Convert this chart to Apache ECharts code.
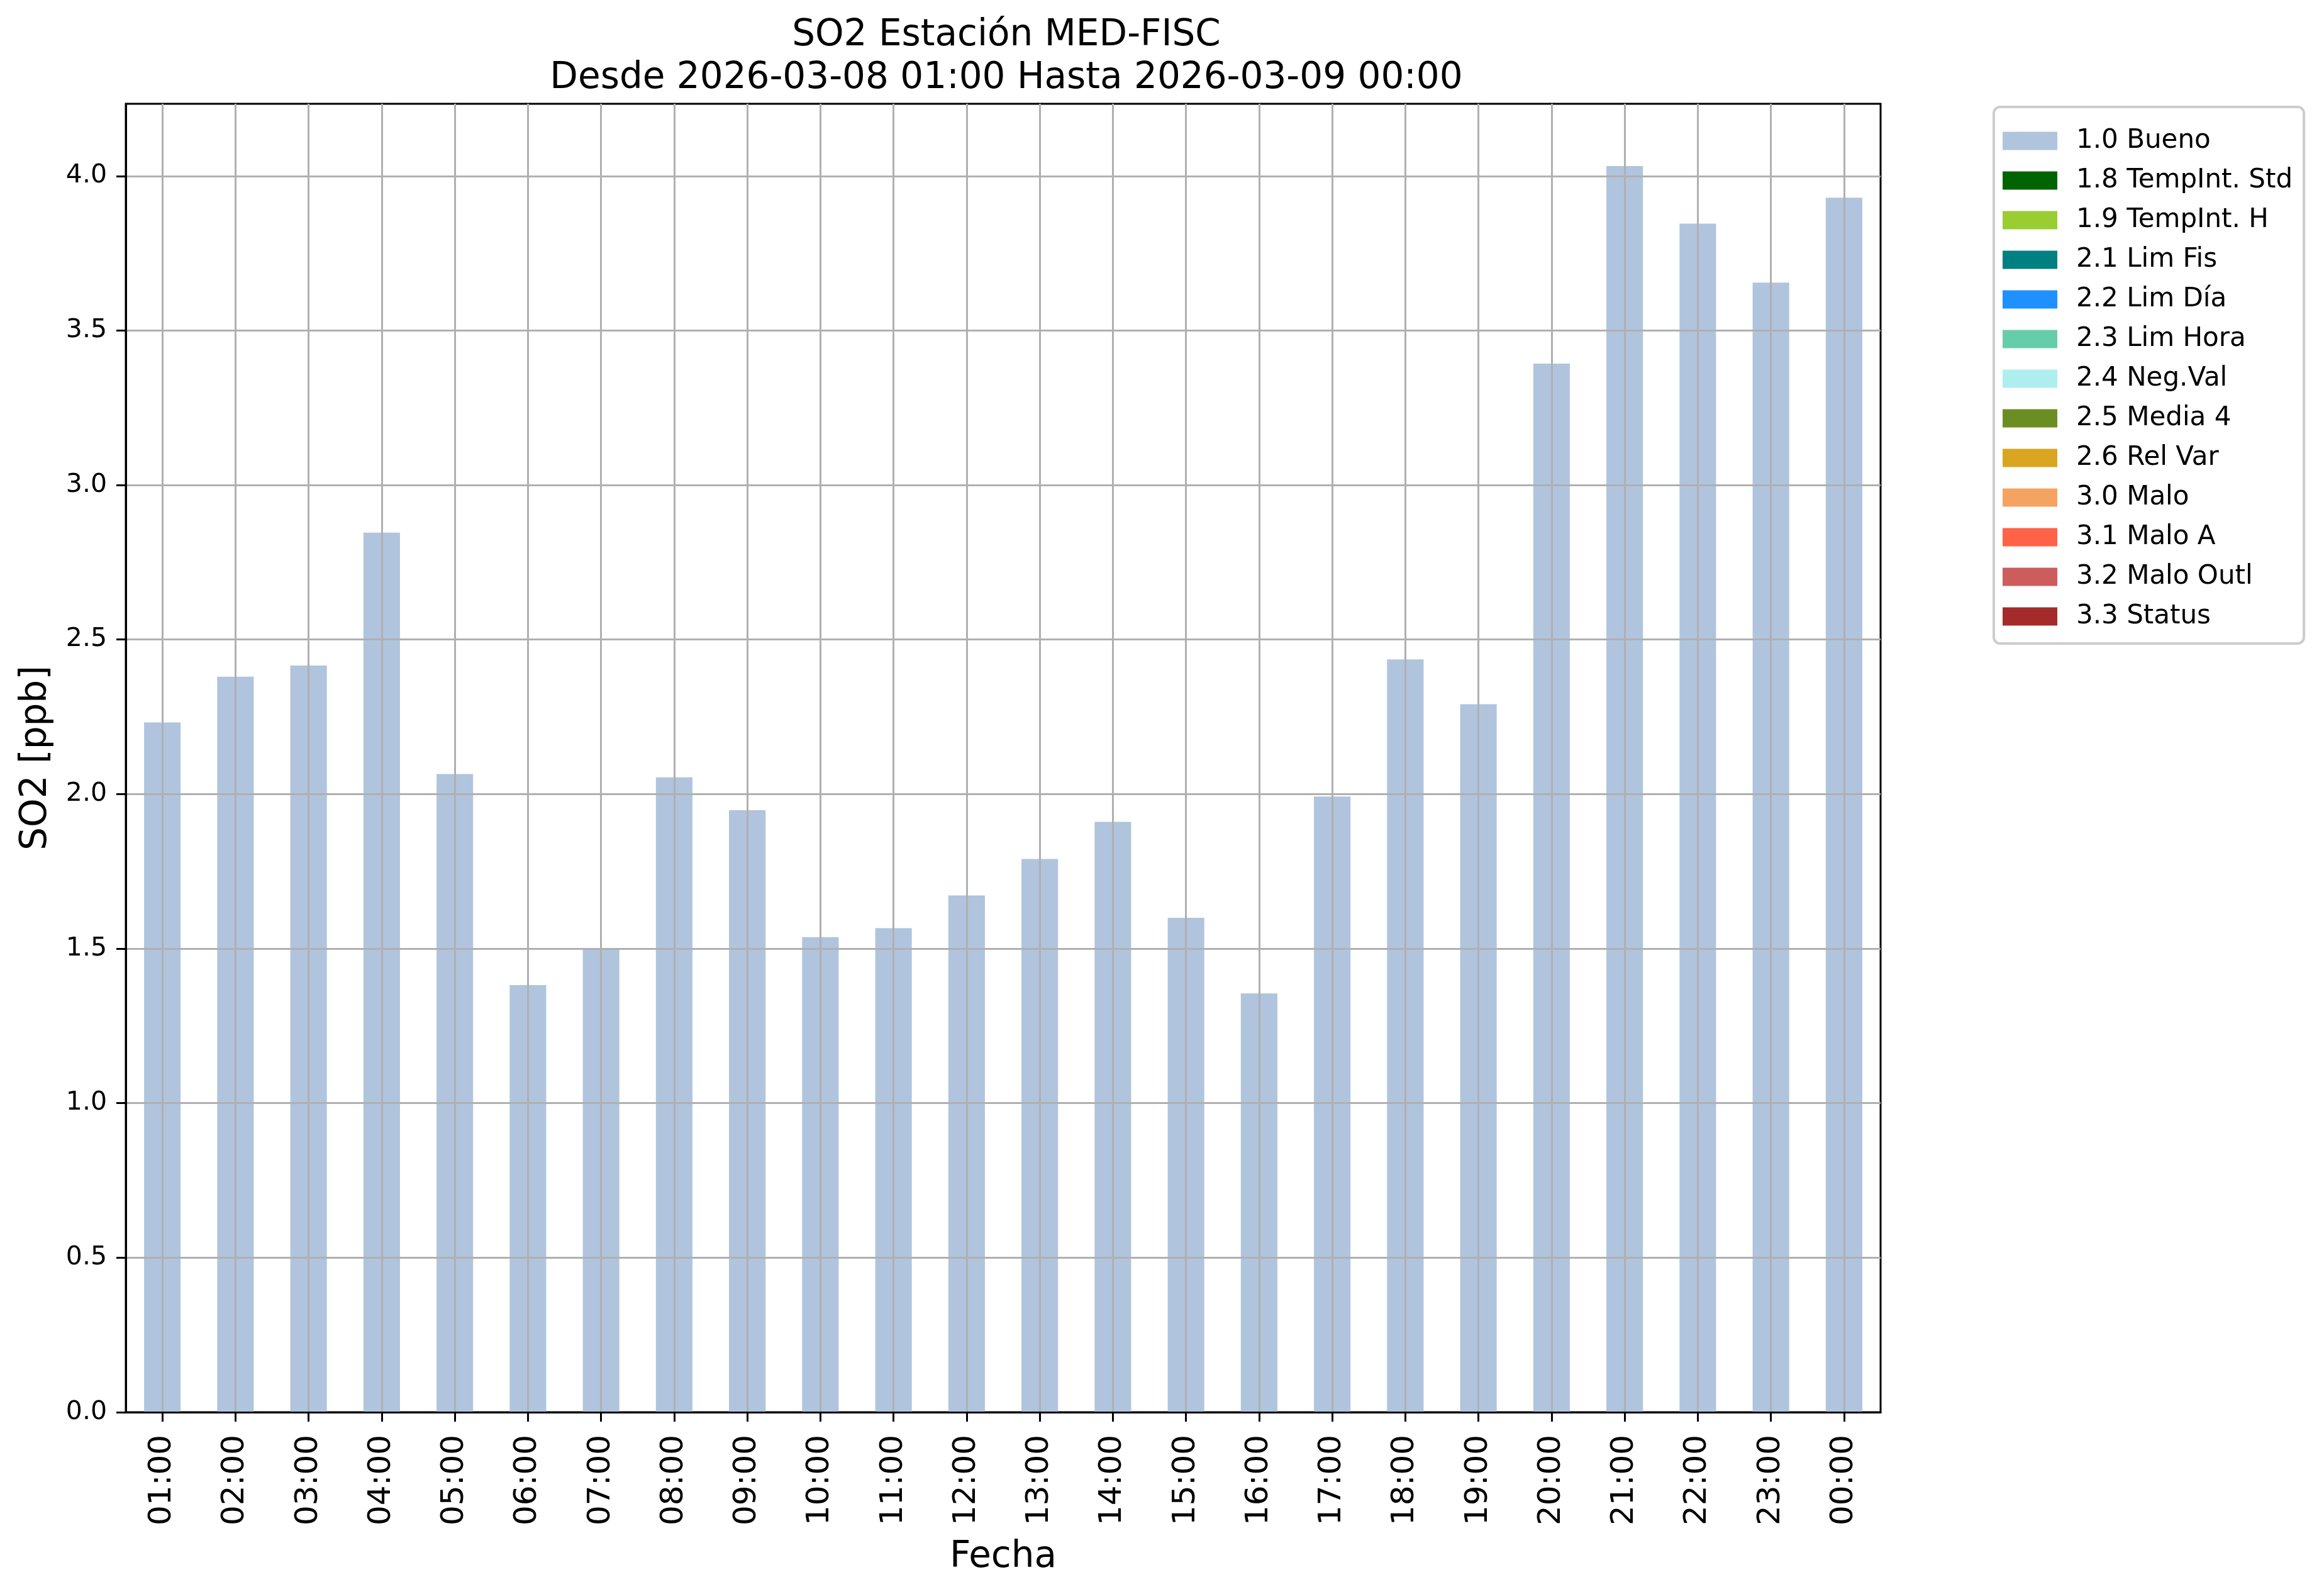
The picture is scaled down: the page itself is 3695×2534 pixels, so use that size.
<!DOCTYPE html>
<html>
<head>
<meta charset="utf-8">
<script src="https://cdn.jsdelivr.net/npm/echarts@6/dist/echarts.min.js"></script>
<style>
html,body{margin:0;padding:0;background:#fff;}
#chart{width:3695px;height:2534px;}
</style>
</head>
<body>
<div id="chart"></div>
<script>
const titleLines = ['SO2 Estación MED-FISC', 'Desde 2026-03-08 01:00 Hasta 2026-03-09 00:00'];
const categories = ['01:00','02:00','03:00','04:00','05:00','06:00','07:00','08:00','09:00','10:00','11:00','12:00',
  '13:00','14:00','15:00','16:00','17:00','18:00','19:00','20:00','21:00','22:00','23:00','00:00'];
const buenoValues = [2.232, 2.380, 2.416, 2.846, 2.065, 1.382, 1.498, 2.054, 1.948, 1.537, 1.566, 1.672,
  1.790, 1.910, 1.600, 1.355, 1.992, 2.436, 2.291, 3.393, 4.032, 3.846, 3.655, 3.930];
const flagNames = ['1.0 Bueno','1.8 TempInt. Std','1.9 TempInt. H','2.1 Lim Fis','2.2 Lim Día','2.3 Lim Hora',
  '2.4 Neg.Val','2.5 Media 4','2.6 Rel Var','3.0 Malo','3.1 Malo A','3.2 Malo Outl','3.3 Status'];
const flagColors = ['#B0C4DE','#006400','#9ACD32','#008080','#1E90FF','#66CDAA','#AFEEEE','#6B8E23',
  '#DAA520','#F4A460','#FF6347','#CD5C5C','#A52A2A'];
const flagValues = [buenoValues, [], [], [], [], [], [], [], [], [], [], [], []];
const yTicks = [0, 0.5, 1.0, 1.5, 2.0, 2.5, 3.0, 3.5, 4.0];
const yName = 'SO2 [ppb]';
const xName = 'Fecha';

const FONT = 'DejaVu Sans';
const yMax = Math.max(...buenoValues) * 1.05;

const chart = echarts.init(document.getElementById('chart'), null, {renderer: 'canvas'});

const series = flagNames.map((n, i) => ({
  name: n,
  type: 'bar',
  stack: 'flags',
  barWidth: '50%',
  itemStyle: {color: flagColors[i]},
  data: flagValues[i]
}));

chart.setOption({
  animation: false,
  backgroundColor: '#ffffff',
  title: {
    text: titleLines.join('\n'),
    left: 1595,
    top: 18,
    textAlign: 'center',
    textStyle: {fontFamily: FONT, fontSize: 58, fontWeight: 'normal', color: '#000', lineHeight: 68}
  },
  legend: {
    orient: 'vertical',
    left: 3170,
    top: 170,
    icon: 'rect',
    itemWidth: 87,
    itemHeight: 29,
    itemGap: 21,
    padding: [33, 18, 22, 14],
    borderColor: '#cccccc',
    borderWidth: 4,
    borderRadius: 10,
    backgroundColor: '#ffffff',
    data: flagNames,
    textStyle: {fontFamily: FONT, fontSize: 42, color: '#000', lineHeight: 42, padding: [0, 0, 0, 25]}
  },
  grid: {
    left: 200, right: 705, top: 165, bottom: 289,
    show: true, borderColor: '#000', borderWidth: 3, backgroundColor: 'transparent'
  },
  xAxis: {
    type: 'category',
    data: categories,
    z: 3,
    name: xName,
    nameLocation: 'middle',
    nameGap: 202,
    nameTextStyle: {fontFamily: FONT, fontSize: 58, color: '#000'},
    axisLine: {show: true, lineStyle: {color: '#000', width: 3}},
    axisTick: {show: true, alignWithLabel: true, length: 15, inside: false, lineStyle: {color: '#000', width: 3}},
    axisLabel: {rotate: 90, fontFamily: FONT, fontSize: 50, color: '#000', margin: 36, interval: 0},
    splitLine: {show: true, alignWithLabel: true, interval: 0, lineStyle: {color: '#b0b0b0', width: 3}}
  },
  yAxis: {
    type: 'value',
    min: 0,
    max: yMax,
    interval: 0.5,
    z: 3,
    name: yName,
    nameLocation: 'middle',
    nameGap: 113,
    nameTextStyle: {fontFamily: FONT, fontSize: 58, color: '#000'},
    axisLine: {show: true, lineStyle: {color: '#000', width: 3}},
    axisTick: {show: true, length: 15, customValues: yTicks, lineStyle: {color: '#000', width: 3}},
    axisLabel: {fontFamily: FONT, fontSize: 41, color: '#000', margin: 30, customValues: yTicks,
      formatter: v => v.toFixed(1)},
    splitLine: {show: true, lineStyle: {color: '#b0b0b0', width: 3}}
  },
  series: series
});
</script>
</body>
</html>
